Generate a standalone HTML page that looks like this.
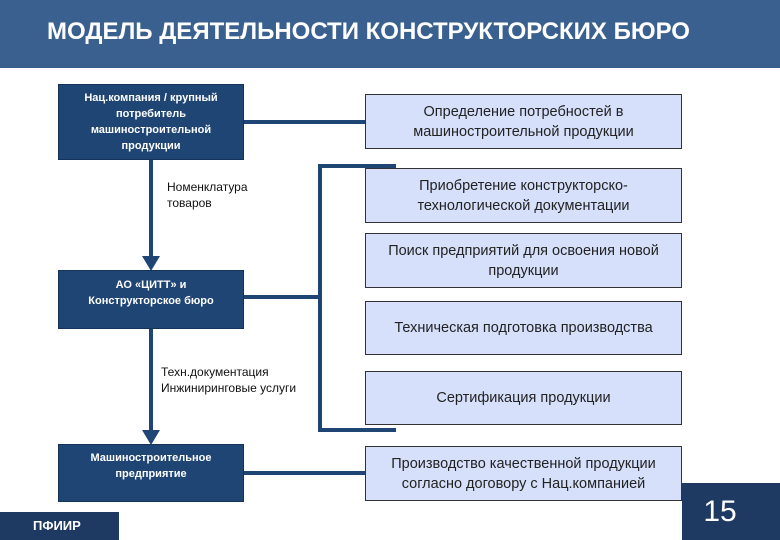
<!DOCTYPE html>
<html><head><meta charset="utf-8"><style>
body{margin:0;width:780px;height:540px;position:relative;overflow:hidden;background:#fff;font-family:"Liberation Sans","DejaVu Sans",sans-serif}
.hdr{position:absolute;left:0;top:0;width:780px;height:68px;background:#3a6090}
.t{position:absolute;left:47px;top:18px;color:#fff;font-weight:bold;font-size:24px;white-space:nowrap}
.lb{position:absolute;background:#1f4575;border:1px solid #15325a;color:#fff;font-weight:bold;font-size:11px;text-align:center;line-height:16px;box-sizing:border-box}
.rb{position:absolute;left:365px;width:317px;background:#d6e0fa;border:1px solid #333;box-sizing:border-box;font-size:14.5px;color:#222;text-align:center;line-height:20px;display:flex;align-items:center;justify-content:center;white-space:nowrap}
.ln{position:absolute;background:#1f4575}
.lab{position:absolute;font-size:12px;color:#111;line-height:16px}
</style></head><body>
<div class="hdr"><div class="t">МОДЕЛЬ ДЕЯТЕЛЬНОСТИ КОНСТРУКТОРСКИХ БЮРО</div></div>

<div class="ln" style="left:149px;top:159px;width:4px;height:102px"></div>
<div class="ln" style="left:149px;top:328px;width:4px;height:106px"></div>
<svg style="position:absolute;left:141px;top:256px" width="20" height="16"><polygon points="1,0 19,0 10,15" fill="#1f4575"/></svg>
<svg style="position:absolute;left:141px;top:430px" width="20" height="16"><polygon points="1,0 19,0 10,15" fill="#1f4575"/></svg>

<div class="ln" style="left:243px;top:120px;width:122px;height:4px"></div>
<div class="ln" style="left:243px;top:295px;width:77px;height:4px"></div>
<div class="ln" style="left:243px;top:471px;width:122px;height:4px"></div>
<div class="ln" style="left:318px;top:164px;width:4px;height:267px"></div>
<div class="ln" style="left:318px;top:164px;width:78px;height:4px"></div>
<div class="ln" style="left:318px;top:428px;width:78px;height:4px"></div>

<div class="lb" style="left:58px;top:84px;width:186px;height:76px;padding-top:5px">Нац.компания / крупный<br>потребитель<br>машиностроительной<br>продукции</div>
<div class="lb" style="left:58px;top:270px;width:186px;height:59px;padding-top:6px">АО «ЦИТТ» и<br>Конструкторское бюро</div>
<div class="lb" style="left:58px;top:444px;width:186px;height:58px;padding-top:5px">Машиностроительное<br>предприятие</div>

<div class="lab" style="left:167px;top:179px">Номенклатура<br>товаров</div>
<div class="lab" style="left:161px;top:364px">Техн.документация<br>Инжиниринговые услуги</div>

<div class="rb" style="top:94px;height:55px">Определение потребностей в<br>машиностроительной продукции</div>
<div class="rb" style="top:168px;height:55px">Приобретение конструкторско-<br>технологической документации</div>
<div class="rb" style="top:233px;height:55px;align-items:flex-start;padding-top:7px">Поиск предприятий для освоения новой<br>продукции</div>
<div class="rb" style="top:301px;height:54px">Техническая подготовка производства</div>
<div class="rb" style="top:371px;height:54px">Сертификация продукции</div>
<div class="rb" style="top:446px;height:55px">Производство качественной продукции<br>согласно договору с Нац.компанией</div>

<div style="position:absolute;left:0;top:512px;width:119px;height:28px;background:#1e3a63;color:#fff;font-weight:bold;font-size:13px;line-height:28px;padding-left:33px;box-sizing:border-box">ПФИИР</div>
<div style="position:absolute;left:682px;top:483px;width:98px;height:57px;background:#1e3a63;color:#fff;font-size:30px;line-height:57px;text-align:center;padding-right:22px;box-sizing:border-box">15</div>
</body></html>
